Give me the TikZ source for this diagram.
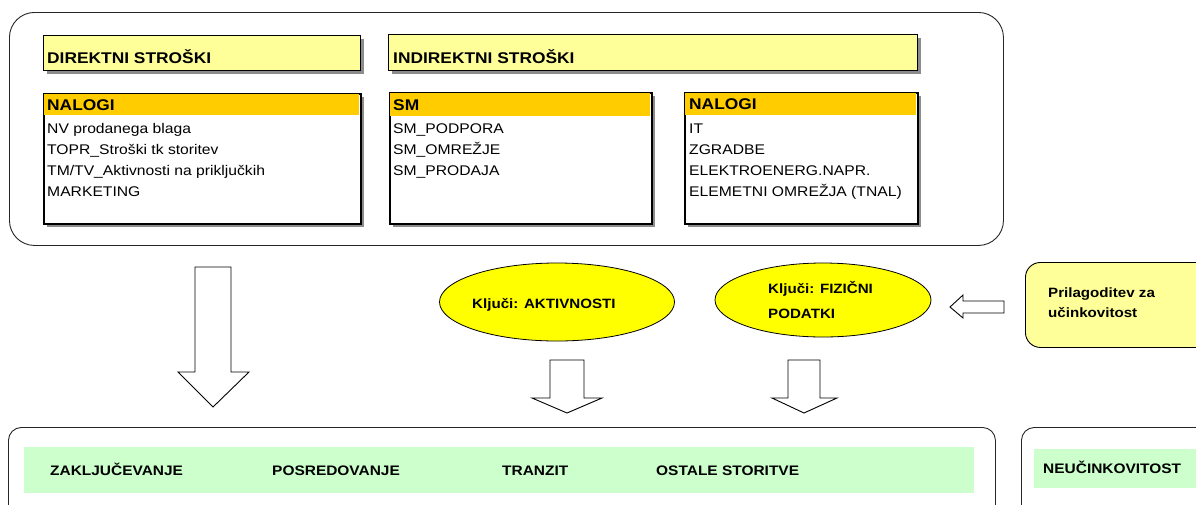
\documentclass[tikz,border=0pt]{standalone}
\usepackage{fontspec}
\setmainfont{Liberation Sans}[FakeStretch=1.12]
\usetikzlibrary{positioning,shapes.geometric,shadows}
\definecolor{bandyellow}{HTML}{FFFF99}
\definecolor{headorange}{HTML}{FFCC00}
\definecolor{keyyellow}{HTML}{FFFF00}
\definecolor{outgreen}{HTML}{CCFFCC}

\begin{document}
\begin{tikzpicture}[x=1pt,y=-1pt,
    panel/.style={draw=black!85, line width=0.9pt, rounded corners=#1,
      anchor=north west, inner sep=0pt},
    band/.style={draw=black, line width=1.1pt, fill=bandyellow,
      anchor=north west, inner sep=0pt,
      drop shadow={shadow xshift=3pt,shadow yshift=-3pt,fill=black!45,opacity=1}},
    listbox/.style={draw=black, line width=1.6pt, fill=white,
      anchor=north west, inner sep=0pt,
      drop shadow={shadow xshift=3pt,shadow yshift=-3pt,fill=black!45,opacity=1}},
    title/.style={anchor=base west, inner sep=0pt,
      font=\fontsize{15.5pt}{18pt}\selectfont\bfseries},
    item/.style={anchor=base west, inner sep=0pt,
      font=\fontsize{14pt}{17pt}\selectfont},
    key/.style={ellipse, draw=black, line width=0.8pt, fill=keyyellow, inner sep=0pt},
    keytext/.style={anchor=base west, inner sep=0pt,
      font=\fontsize{13.5pt}{16pt}\selectfont\bfseries},
    outband/.style={fill=outgreen, anchor=north west, inner sep=0pt},
    outtext/.style={anchor=base west, inner sep=0pt,
      font=\fontsize{13.8pt}{16pt}\selectfont\bfseries},
    blockarrow/.style={draw=black, line width=0.9pt, fill=white, line join=miter}
  ]
  \useasboundingbox (0,0) rectangle (1196,504);
  \clip (0,0) rectangle (1196,504);

  % cost pools
  \node[panel=25pt, minimum width=994pt, minimum height=233pt] (costs) at (9,12) {};
  \node[band, minimum width=317pt, minimum height=35pt] (dirband) at (43,35) {};
  \node[band, minimum width=529pt, minimum height=36pt] (indband) at (388,34) {};
  \node[title] (dirtitle) at (47,63) {DIREKTNI STROŠKI};
  \node[title] (indtitle) at (393,63) {INDIREKTNI STROŠKI};

  \node[listbox, minimum width=317pt, minimum height=130pt] (dirlist) at (43,93) {};
  \node[listbox, minimum width=262pt, minimum height=131pt] (smlist) at (389,92) {};
  \node[listbox, minimum width=233pt, minimum height=131pt] (nallist) at (684,92) {};
  \fill[headorange] (43.8,93.8) rectangle (359.2,115);
  \fill[headorange] (389.8,92.8) rectangle (650.2,116);
  \fill[headorange] (684.8,92.8) rectangle (916.2,115);
  \node[title] (dirhead) at (47,110) {NALOGI};
  \node[title] (smhead) at (393,110) {SM};
  \node[title] (nalhead) at (689,109) {NALOGI};

  \foreach \t [count=\i] in {NV prodanega blaga,
      TOPR\textunderscore Stroški tk storitev,
      TM/TV\textunderscore Aktivnosti na priključkih, MARKETING}
    \node[item] (dir\i) at (47,111.7+21.3*\i) {\t};
  \foreach \t [count=\i] in {SM\textunderscore PODPORA,
      SM\textunderscore OMREŽJE, SM\textunderscore PRODAJA}
    \node[item] (sm\i) at (393,111.7+21.3*\i) {\t};
  \foreach \t [count=\i] in {IT, ZGRADBE, ELEKTROENERG.NAPR.,
      ELEMETNI OMREŽJA (TNAL)}
    \node[item] (nal\i) at (689,111.7+21.3*\i) {\t};

  % allocation keys
  \node[key, minimum width=235pt, minimum height=78pt] (keyact) at (557,302) {};
  \node[key, minimum width=216pt, minimum height=74pt] (keyfiz) at (823,300) {};
  \node[keytext] (actlbl) at (472,308) {Ključi: AKTIVNOSTI};
  \node[keytext] (fizlbl) at (768,293) {Ključi: FIZIČNI};
  \node[keytext] (fizlblb) at (768,318) {PODATKI};

  \node[panel=15pt, fill=bandyellow, draw=black, minimum width=200pt,
    minimum height=85pt] (adjust) at (1025,262) {};
  \node[keytext] (adjlbl) at (1048,297) {Prilagoditev za};
  \node[keytext] (adjlblb) at (1048,317) {učinkovitost};

  % flows
  \draw[blockarrow] (195,267) -- (231,267) -- (231,372) -- (249,372)
    -- (213,407) -- (178,372) -- (195,372) -- cycle;
  \draw[blockarrow] (550,360) -- (584,360) -- (584,398) -- (602,398)
    -- (567,413) -- (532,398) -- (550,398) -- cycle;
  \draw[blockarrow] (788,360) -- (820,360) -- (820,398) -- (837,398)
    -- (804,413) -- (772,398) -- (788,398) -- cycle;
  \draw[blockarrow] (950,307) -- (963,295) -- (963,301) -- (1004,301)
    -- (1004,313) -- (963,313) -- (963,318) -- cycle;

  % cost objects
  \node[panel=13pt, minimum width=987pt, minimum height=100pt] (services) at (8,427) {};
  \node[panel=13pt, minimum width=200pt, minimum height=100pt] (ineff) at (1021,427) {};
  \node[outband, minimum width=950pt, minimum height=46pt] (svcband) at (24,447) {};
  \node[outband, minimum width=180pt, minimum height=39pt] (ineffband) at (1034,449) {};
  \node[outtext] (zak) at (50,475) {ZAKLJUČEVANJE};
  \node[outtext] (pos) at (272,475) {POSREDOVANJE};
  \node[outtext] (tra) at (502,475) {TRANZIT};
  \node[outtext] (ost) at (656,475) {OSTALE STORITVE};
  \node[outtext] (neu) at (1043,473) {NEUČINKOVITOST};
\end{tikzpicture}
\end{document}
